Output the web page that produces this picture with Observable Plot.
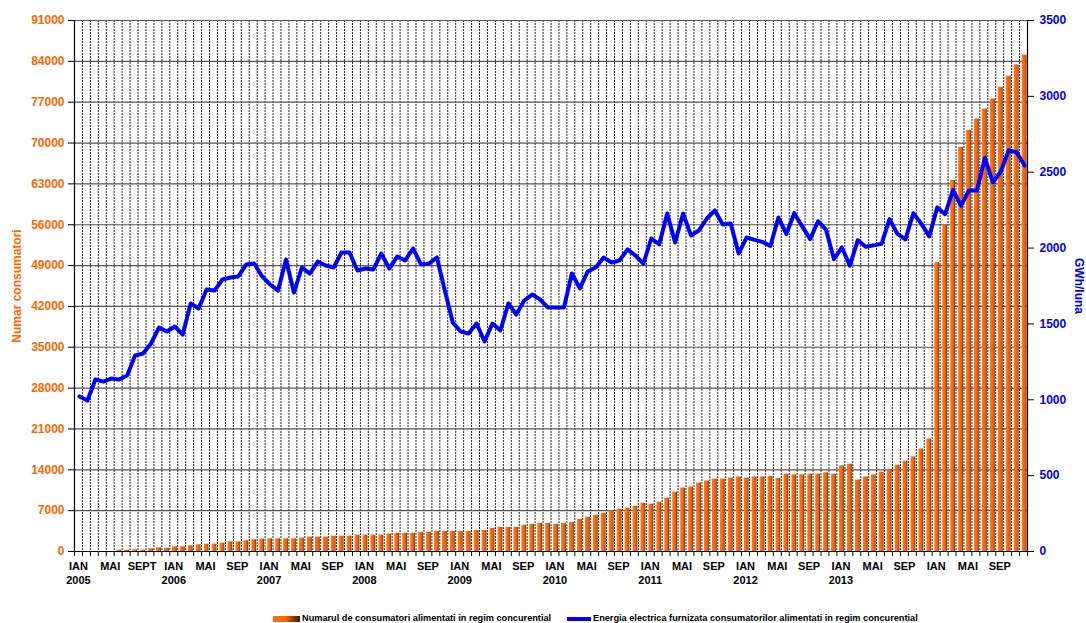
<!DOCTYPE html>
<html><head><meta charset="utf-8">
<script src="https://cdn.jsdelivr.net/npm/d3@7"></script>
<script src="https://cdn.jsdelivr.net/npm/@observablehq/plot@0.6"></script>
<style>
html,body{margin:0;padding:0;background:#fff;}
#wrap{width:1086px;height:623px;overflow:hidden;position:relative;}
#chart svg{display:block;}
#legend{position:relative;width:1086px;height:15px;font:bold 9.2px "Liberation Sans",Arial,sans-serif;color:#000;}
#legend .sw1{position:absolute;left:273px;top:8px;width:27px;height:6px;background:linear-gradient(to right,#ff6a10 0%,#ff6600 45%,#3a1800 100%);}
#legend .t1{position:absolute;left:302px;top:5px;white-space:nowrap;}
#legend .sw2{position:absolute;left:567px;top:9px;width:24px;height:3.5px;background:#0000ff;}
#legend .t2{position:absolute;left:593px;top:5px;white-space:nowrap;}
</style>
</head><body>
<div id="wrap"><div id="chart"></div>
<div id="legend"><span class="sw1"></span><span class="t1">Numarul de consumatori alimentati in regim concurential</span><span class="sw2"></span><span class="t2">Energia electrica furnizata consumatorilor alimentati in regim concurential</span></div>
</div>
<script>
// ---- data ----
const years = [2005,2006,2007,2008,2009,2010,2011,2012,2013,2014];
const monthLabels = ["IAN","MAI","SEP"]; // shown at months 0,4,8

// Numar consumatori (left axis), Jan 2005 .. Dec 2014
const consumers2005 = [0,0,0,0,0,230,230,290,230,460,630,570];
const consumers2006 = [800,800,975,1150,1260,1260,1430,1660,1660,1840,2010,2120];
const consumers2007 = [2180,2180,2180,2180,2300,2470,2470,2470,2640,2640,2640,2810];
const consumers2008 = [2810,2810,2810,2980,3130,3130,3130,3280,3280,3450,3450,3450];
const consumers2009 = [3450,3450,3620,3620,3970,4140,4140,4140,4490,4660,4830,4830];
const consumers2010 = [4660,4830,5000,5520,5870,6210,6560,6960,7250,7420,7760,8280];
const consumers2011 = [8110,8450,9140,10180,10870,11040,11730,12080,12420,12420,12600,12770];
const consumers2012 = [12600,12780,12780,12900,12540,13250,13130,13130,13250,13250,13490,13250];
const consumers2013 = [14670,14970,12240,12780,13130,13600,14080,14790,15500,16210,17570,19280];
const consumers2014 = [49500,55900,63590,69270,72170,74120,75830,77550,79560,81450,83400,85060];

// GWh/luna (right axis)
const gwh2005 = [1022,995,1134,1120,1140,1134,1160,1292,1305,1371,1476,1450];
const gwh2006 = [1483,1430,1635,1602,1727,1720,1793,1806,1813,1892,1898,1813];
const gwh2007 = [1760,1720,1925,1707,1872,1832,1911,1885,1872,1971,1971,1852];
const gwh2008 = [1865,1859,1964,1865,1944,1918,1997,1892,1898,1938,1720,1509];
const gwh2009 = [1450,1437,1503,1384,1503,1457,1635,1562,1654,1694,1661,1608];
const gwh2010 = [1608,1608,1832,1734,1846,1872,1938,1905,1918,1991,1951,1898];
const gwh2011 = [2063,2024,2228,2037,2228,2083,2116,2195,2248,2155,2162,1964];
const gwh2012 = [2070,2054,2041,2014,2202,2093,2230,2143,2059,2177,2121,1927];
const gwh2013 = [2004,1884,2052,2009,2018,2029,2191,2093,2057,2230,2161,2077];
const gwh2014 = [2268,2223,2382,2280,2380,2380,2594,2434,2503,2644,2632,2544];

const leftTicks = [0,7000,14000,21000,28000,35000,42000,49000,56000,63000,70000,77000,84000,91000];
const rightTicks = [0,500,1000,1500,2000,2500,3000,3500];

// ---- build table ----
const consumers = [].concat(consumers2005,consumers2006,consumers2007,consumers2008,consumers2009,consumers2010,consumers2011,consumers2012,consumers2013,consumers2014);
const gwh = [].concat(gwh2005,gwh2006,gwh2007,gwh2008,gwh2009,gwh2010,gwh2011,gwh2012,gwh2013,gwh2014);
const n = consumers.length;
const rows = consumers.map((c,i)=>({i, consumers:c, gwh:gwh[i]}));
const ratio = 91000/3500;

// x labels at month centers
const labelMap = new Map();
years.forEach((yr,k)=>{
  const base = k*12;
  labelMap.set(base+0.5, yr===2014 ? "IAN" : "IAN\n"+yr);
  labelMap.set(base+4.5, "MAI");
  labelMap.set(base+8.5, yr===2005 ? "SEPT" : "SEP");
});

const font = "Liberation Sans, Arial, Helvetica, sans-serif";
const plot = Plot.plot({
  width:1086, height:608,
  marginLeft:74, marginRight:59, marginTop:20, marginBottom:57,
  style:{fontFamily:font, fontWeight:"bold", fontSize:"12px", background:"#fff", overflow:"visible"},
  x:{type:"linear", domain:[0,n]},
  y:{domain:[0,91000]},
  marks:[
    Plot.ruleX(d3.range(1,n), {stroke:"#000", strokeOpacity:0.85, strokeDasharray:"2,1", strokeWidth:1}),
    Plot.ruleY(leftTicks, {stroke:"#555", strokeWidth:1.2}),
    Plot.rectY(rows, {x1:d=>d.i+0.33, x2:d=>d.i+0.93, y:"consumers", fill:"url(#barGrad)"}),
    Plot.line(rows, {x:d=>d.i+0.63, y:d=>d.gwh*ratio, stroke:"#0000ff", strokeWidth:4, strokeLinejoin:"round"}),
    Plot.ruleX([0], {stroke:"#000", strokeWidth:1.2}),
    Plot.ruleX([n], {stroke:"#000", strokeWidth:1.2}),
    Plot.ruleY([0], {stroke:"#000", strokeWidth:1.2}),
    Plot.axisY(leftTicks, {anchor:"left", tickSize:6, tickPadding:4, stroke:"#000", fill:"#ff6600", fontSize:12, tickFormat:d3.format("d"), label:null}),
    Plot.axisY(rightTicks.map(v=>v*ratio), {anchor:"right", tickSize:6, tickPadding:6, stroke:"#000", fill:"#0000ff", fontSize:12, tickFormat:d=>String(Math.round(d/ratio)), label:null}),
    Plot.axisX(d3.range(0,n+1), {anchor:"bottom", tickSize:5, stroke:"#000", tickFormat:()=>"", label:null}),
    Plot.axisX([...labelMap.keys()], {anchor:"bottom", tickSize:0, tickPadding:8, fill:"#000", fontSize:11, lineHeight:1.3, tickFormat:d=>labelMap.get(d), label:null}),
    Plot.text(["Numar consumatori"], {frameAnchor:"left", textAnchor:"middle", dx:-57, rotate:-90, fill:"#ff6600", fontSize:12, fontWeight:"bold"}),
    Plot.text(["GWh/luna"], {frameAnchor:"right", textAnchor:"middle", dx:51, rotate:90, fill:"#0000ff", fontSize:12, fontWeight:"bold"})
  ]
});

const defs = d3.select(plot).insert("defs", ":first-child");
const g = defs.append("linearGradient").attr("id","barGrad").attr("x1","0").attr("x2","1").attr("y1","0").attr("y2","0");
g.append("stop").attr("offset","0%").attr("stop-color","#ff7a22");
g.append("stop").attr("offset","50%").attr("stop-color","#ff6600");
g.append("stop").attr("offset","78%").attr("stop-color","#e05a00");
g.append("stop").attr("offset","100%").attr("stop-color","#4a1e00");

document.getElementById("chart").appendChild(plot);
</script>
</body></html>
